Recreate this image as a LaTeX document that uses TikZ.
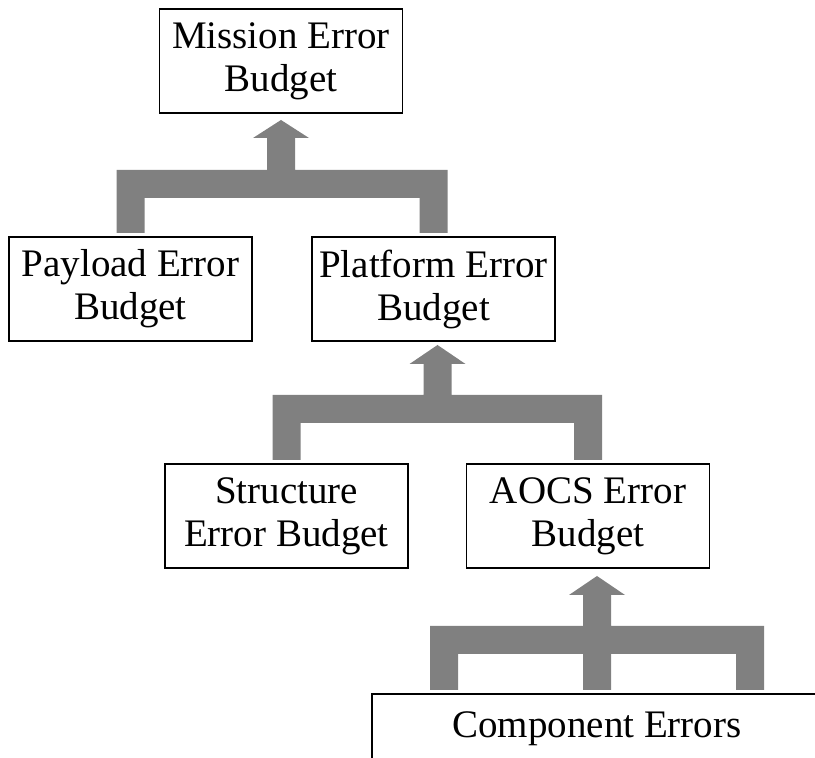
\documentclass[tikz,border=0pt]{standalone}
\usepackage{fontspec}
\setmainfont{Liberation Serif}
\usetikzlibrary{calc}
\tikzset{
  budget/.style={draw=black, line width=1.5pt, rectangle, align=center,
    minimum width=243pt, minimum height=104pt, inner sep=0pt,
    font=\fontsize{39}{43}\selectfont},
  conn/.style={fill=black!50, draw=none}
}
\begin{document}
\begin{tikzpicture}[x=1pt,y=1pt]
\useasboundingbox (0,0) rectangle (815,758);

% budget boxes
\node[budget] (mis) at (281,697)   {Mission Error\\Budget};
\node[budget] (pay) at (130.5,469) {Payload Error\\Budget};
\node[budget] (pla) at (433.5,469) {Platform Error\\Budget};
\node[budget] (str) at (286.5,242) {Structure\\Error Budget};
\node[budget] (aoc) at (588,242)   {AOCS Error\\Budget};
\node[budget, minimum width=450pt, minimum height=70pt] (cmp) at (597,29) {Component Errors};

% payload + platform -> mission
\fill[conn] let \p1=(mis.south), \p2=(pay.north), \p3=(pla.north) in
  (\x2-14,525) -- (\x2-14,588) -- (\x1-14,588) -- (\x1-14,620) -- (\x1-28,620)
  -- (\x1,638) -- (\x1+28,620) -- (\x1+14,620) -- (\x1+14,588) -- (\x3+14,588)
  -- (\x3+14,525) -- (\x3-14,525) -- (\x3-14,560) -- (\x2+14,560) -- (\x2+14,525) -- cycle;

% structure + AOCS -> platform
\fill[conn] let \p1=($(pla.south)+(4,0)$), \p2=(str.north), \p3=(aoc.north) in
  (\x2-14,298) -- (\x2-14,363) -- (\x1-14,363) -- (\x1-14,394) -- (\x1-28,394)
  -- (\x1,413) -- (\x1+28,394) -- (\x1+14,394) -- (\x1+14,363) -- (\x3+14,363)
  -- (\x3+14,298) -- (\x3-14,298) -- (\x3-14,335) -- (\x2+14,335) -- (\x2+14,298) -- cycle;

% component errors -> AOCS
\fill[conn] let \p1=(cmp.north |- aoc.south), \p2=(cmp.north) in
  (\x2-167,68) -- (\x2-167,132) -- (\x1-14,132) -- (\x1-14,163) -- (\x1-28,163)
  -- (\x1,182) -- (\x1+28,163) -- (\x1+14,163) -- (\x1+14,132) -- (\x2+167,132)
  -- (\x2+167,68) -- (\x2+139,68) -- (\x2+139,104) -- (\x2+14,104) -- (\x2+14,68)
  -- (\x2-14,68) -- (\x2-14,104) -- (\x2-139,104) -- (\x2-139,68) -- cycle;
\end{tikzpicture}
\end{document}
